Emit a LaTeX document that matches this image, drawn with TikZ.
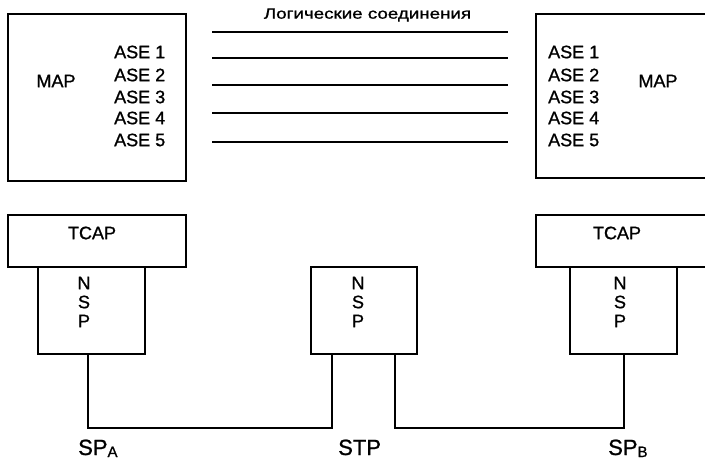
\documentclass[tikz,border=0pt]{standalone}
\usepackage{fontspec}
\setmainfont[FakeBold=1]{Liberation Sans}
\newfontfamily\plainfont{Liberation Sans}
\begin{document}
\begin{tikzpicture}[x=1pt,y=-1pt,
  box/.style={draw, line width=1.8pt, inner sep=0pt, anchor=north west},
  lbl/.style={inner sep=0pt, font=\fontsize{18}{18}\selectfont},
  ase/.style={inner sep=0pt, anchor=west, font=\fontsize{18}{18}\selectfont},
  nsp/.style={inner sep=0pt, font=\fontsize{18}{18}\selectfont},
  big/.style={inner sep=0pt, font=\fontsize{22}{22}\selectfont},
  link/.style={line width=1.7pt},
  wire/.style={line width=1.3pt}]
\useasboundingbox (0,0) rectangle (705,463);
% MAP boxes
\node[box, minimum width=178pt, minimum height=167pt] (mapL) at (7,13) {};
\node[box, minimum width=190pt, minimum height=164pt] (mapR) at (535,13) {};
\node[lbl] (mapLt) at (56,81) {MAP};
\node[lbl] (mapRt) at (658,81) {MAP};
\foreach \i/\y in {1/52,2/75,3/97,4/118,5/140}{
  \node[ase] (aseL\i) at (114,\y) {ASE \i};
  \node[ase] (aseR\i) at (548,\y) {ASE \i};
}
% logical connections
\node[inner sep=0pt, xscale=1.25, font=\fontsize{15}{15}\selectfont] (title) at (367.5,15) {Логические соединения};
\foreach \i/\y in {1/32,2/58,3/85,4/113,5/142}{
  \coordinate (lA\i) at (212,\y);
  \coordinate (lB\i) at (508,\y);
  \draw[link] (lA\i) -- (lB\i);
}
% TCAP boxes
\node[box, minimum width=178pt, minimum height=52pt] (tcapL) at (7,214) {};
\node[box, minimum width=190pt, minimum height=52pt] (tcapR) at (535,214) {};
\node[lbl] (tcapLt) at (92,233) {TCAP};
\node[lbl] (tcapRt) at (617,233) {TCAP};
% NSP boxes
\node[box, minimum width=107pt, minimum height=87pt] (nspA) at (37,266) {};
\node[box, minimum width=106pt, minimum height=87pt] (nspS) at (310,266) {};
\node[box, minimum width=107pt, minimum height=87pt] (nspB) at (569,266) {};
\foreach \n/\x in {A/84,S/358,B/620}{
  \node[nsp] (n\n) at (\x,283) {N};
  \node[nsp] (s\n) at (\x,302) {S};
  \node[nsp] (p\n) at (\x,321) {P};
}
% wiring
\coordinate (wA) at (88,353);
\coordinate (wS1) at (332,353);
\coordinate (wS2) at (395,353);
\coordinate (wB) at (624,353);
\coordinate (bus1) at (88,428);
\coordinate (bus2) at (395,428);
\draw[wire] (wA) -- (bus1) -| (wS1);
\draw[wire] (wS2) -- (bus2) -| (wB);
% labels
\node[big, anchor=base west] (spA) at (78,455) {SP\raisebox{-2pt}{\fontsize{15}{15}\selectfont A}};
\node[big, anchor=base west] (stp) at (338,455) {STP};
\node[big, anchor=base west] (spB) at (608,455) {SP\raisebox{-2pt}{\fontsize{15}{15}\selectfont B}};
\end{tikzpicture}
\end{document}
